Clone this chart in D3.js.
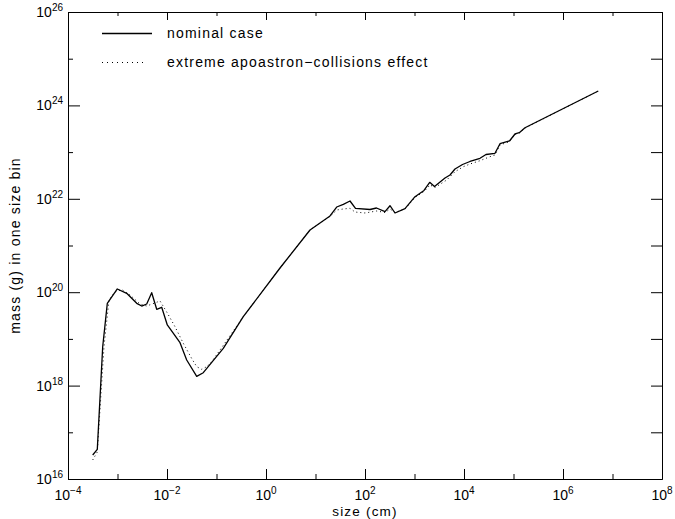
<!DOCTYPE html>
<html>
<head>
<meta charset="utf-8">
<script src="https://cdn.jsdelivr.net/npm/d3@7"></script>
<style>
    body { margin: 0; background: #fff; }
    svg { display: block; font-family: "Liberation Sans", Arial, sans-serif; }
</style>
</head>
<body>
<svg id="chart" width="675" height="519"></svg>
<script>
// values are log10 of size (cm) and log10 of mass (g)
const nominalLogSize = [-3.501, -3.408, -3.299, -3.206, -3.004, -2.814, -2.612, -2.511, -2.410, -2.309,
    -2.208, -2.107, -1.994, -1.737, -1.602, -1.400, -1.267, -0.863, -0.459, 0.283,
    0.889, 1.293, 1.428, 1.562, 1.697, 1.808, 2.101, 2.232, 2.404, 2.505,
    2.606, 2.808, 3.010, 3.192, 3.307, 3.404, 3.616, 3.717, 3.818, 3.970,
    4.121, 4.323, 4.444, 4.626, 4.727, 4.919, 5.030, 5.117, 5.232, 6.713];
const nominalLogMass = [16.514, 16.636, 18.833, 19.762, 20.069, 19.976, 19.762, 19.704, 19.747, 19.989,
    19.634, 19.677, 19.298, 18.919, 18.548, 18.199, 18.276, 18.799, 19.475, 20.518,
    21.332, 21.632, 21.824, 21.882, 21.953, 21.797, 21.771, 21.803, 21.724, 21.852,
    21.696, 21.788, 22.045, 22.178, 22.353, 22.263, 22.445, 22.510, 22.638, 22.734,
    22.799, 22.867, 22.949, 22.974, 23.180, 23.238, 23.388, 23.415, 23.522, 24.308];

const extremeLogSize = [-3.501, -3.408, -3.273, -3.172, -3.051, -2.915, -2.747, -2.545, -2.410, -2.303,
    -2.141, -1.994, -1.838, -1.671, -1.501, -1.400, -1.299, -1.198, -1.097, -0.929,
    -0.459, 0.283, 0.889, 1.293, 1.428, 1.562, 1.697, 1.798, 2.000, 2.236,
    2.404, 2.505, 2.606, 2.808, 3.010, 3.192, 3.313, 3.414, 3.651, 3.818,
    3.986, 4.121, 4.323, 4.525, 4.626, 4.727, 4.915, 5.030, 5.117, 5.232, 6.713];
const extremeLogMass = [16.407, 16.578, 18.833, 19.833, 20.004, 20.058, 19.940, 19.747, 19.704, 19.747,
    19.812, 19.555, 19.261, 18.906, 18.580, 18.405, 18.349, 18.405, 18.512, 18.762,
    19.475, 20.518, 21.332, 21.621, 21.760, 21.782, 21.797, 21.717, 21.696, 21.739,
    21.707, 21.782, 21.707, 21.782, 22.028, 22.156, 22.296, 22.242, 22.403, 22.580,
    22.687, 22.745, 22.816, 22.902, 22.938, 23.152, 23.223, 23.377, 23.409, 23.516, 24.308];

const xDecades = d3.range(-4, 9);
const yDecades = d3.range(16, 27);
const xLabelExponents = [-4, -2, 0, 2, 4, 6, 8];
const yLabelExponents = [16, 18, 20, 22, 24, 26];
const legendLabels = ["nominal case", "extreme apoastron\u2212collisions effect"];

const svg = d3.select("#chart");
const plot = { left: 68, right: 662, top: 12, bottom: 479 };

const x = d3.scaleLog()
    .domain([1e-4, 1e8])
    .range([plot.left, plot.right]);

const y = d3.scaleLog()
    .domain([1e16, 1e26])
    .range([plot.bottom, plot.top]);

function toPoints(logSizes, logMasses) {
    return logSizes.map(function(s, i) {
        return { size: Math.pow(10, s), mass: Math.pow(10, logMasses[i]) };
    });
}

function decadeValues(exps, keepEven) {
    return exps
        .filter(function(e) { return (Math.abs(e) % 2 === 0) === keepEven; })
        .map(function(e) { return Math.pow(10, e); });
}

function addAxis(axis, translate) {
    const g = svg.append("g")
        .attr("transform", translate)
        .call(axis.tickFormat("").tickSizeOuter(0));
    g.selectAll("path, line").attr("stroke", "#000").attr("stroke-width", 1);
    return g;
}

drawAxes();
drawTickLabels();
drawSeries();
drawLegend();

function drawAxes() {
    const xMajor = decadeValues(xDecades, true);
    const xMinor = decadeValues(xDecades, false);
    const yMajor = decadeValues(yDecades, true);
    const yMinor = decadeValues(yDecades, false);

    addAxis(d3.axisBottom(x).tickValues(xMajor).tickSizeInner(-10), "translate(0," + plot.bottom + ")");
    addAxis(d3.axisBottom(x).tickValues(xMinor).tickSizeInner(-5), "translate(0," + plot.bottom + ")");
    addAxis(d3.axisTop(x).tickValues(xMajor).tickSizeInner(-8), "translate(0," + plot.top + ")");
    addAxis(d3.axisTop(x).tickValues(xMinor).tickSizeInner(-4), "translate(0," + plot.top + ")");

    addAxis(d3.axisLeft(y).tickValues(yMajor).tickSizeInner(-12), "translate(" + plot.left + ",0)");
    addAxis(d3.axisLeft(y).tickValues(yMinor).tickSizeInner(-5), "translate(" + plot.left + ",0)");
    addAxis(d3.axisRight(y).tickValues(yMajor.concat(yMinor)).tickSizeInner(-11), "translate(" + plot.right + ",0)");
}

function powerLabel(sel, exponent) {
    sel.append("tspan").text("10");
    sel.append("tspan")
        .attr("dy", -6)
        .attr("font-size", 10)
        .text(exponent < 0 ? "\u2212" + Math.abs(exponent) : String(exponent));
}

function drawTickLabels() {
    xLabelExponents.forEach(function(e) {
        const t = svg.append("text")
            .attr("x", x(Math.pow(10, e)))
            .attr("y", 500)
            .attr("text-anchor", "middle")
            .attr("font-size", 14);
        powerLabel(t, e);
    });

    yLabelExponents.forEach(function(e) {
        const t = svg.append("text")
            .attr("x", 63)
            .attr("y", y(Math.pow(10, e)) + 5)
            .attr("text-anchor", "end")
            .attr("font-size", 14);
        powerLabel(t, e);
    });

    svg.append("text")
        .attr("x", (plot.left + plot.right) / 2)
        .attr("y", 516)
        .attr("text-anchor", "middle")
        .attr("font-size", 13.5)
        .attr("letter-spacing", 1.2)
        .text("size (cm)");

    svg.append("text")
        .attr("transform", "translate(20," + ((plot.top + plot.bottom) / 2) + ") rotate(-90)")
        .attr("text-anchor", "middle")
        .attr("font-size", 14)
        .attr("letter-spacing", 1.2)
        .text("mass (g) in one size bin");
}

function drawSeries() {
    const line = d3.line()
        .x(function(d) { return x(d.size); })
        .y(function(d) { return y(d.mass); });

    svg.append("path")
        .datum(toPoints(extremeLogSize, extremeLogMass))
        .attr("fill", "none")
        .attr("stroke", "#000")
        .attr("stroke-width", 1)
        .attr("stroke-dasharray", "1,3")
        .attr("d", line);

    svg.append("path")
        .datum(toPoints(nominalLogSize, nominalLogMass))
        .attr("fill", "none")
        .attr("stroke", "#000")
        .attr("stroke-width", 1.3)
        .attr("stroke-linejoin", "round")
        .attr("d", line);
}

function drawLegend() {
    const rows = [
        { y: 33.5, x2: 152, dash: null, width: 1.3 },
        { y: 62.5, x2: 147, dash: "1,4", width: 1 }
    ];

    rows.forEach(function(row, i) {
        svg.append("line")
            .attr("x1", 102)
            .attr("x2", row.x2)
            .attr("y1", row.y)
            .attr("y2", row.y)
            .attr("stroke", "#000")
            .attr("stroke-width", row.width)
            .attr("stroke-dasharray", row.dash);

        svg.append("text")
            .attr("x", 167)
            .attr("y", row.y + 4)
            .attr("font-size", 14)
            .attr("letter-spacing", 1.2)
            .text(legendLabels[i]);
    });
}
</script>
</body>
</html>
